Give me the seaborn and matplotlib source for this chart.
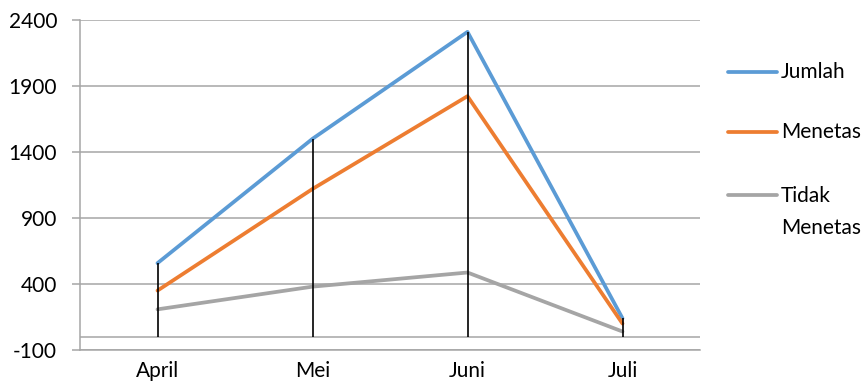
import matplotlib
matplotlib.use("Agg")
import matplotlib.pyplot as plt
from matplotlib.lines import Line2D
import seaborn as sns
import pandas as pd

# Monthly hatching counts
months = ["April", "Mei", "Juni", "Juli"]
jumlah = [558, 1500, 2310, 140]
menetas = [350, 1120, 1823, 100]
tidak_menetas = [208, 380, 487, 40]

series_names = ["Jumlah", "Menetas", "Tidak\nMenetas"]
series_values = [jumlah, menetas, tidak_menetas]
colors = ["#5B9BD5", "#ED7D31", "#A5A5A5"]

y_ticks = [-100, 400, 900, 1400, 1900, 2400]

rows = []
for name, vals in zip(series_names, series_values):
    for i, v in enumerate(vals):
        rows.append({"pos": i, "bulan": months[i], "seri": name, "nilai": v})
df = pd.DataFrame(rows)

sns.set_theme(style="white")
plt.rcParams["font.family"] = ["Lato", "DejaVu Sans"]

W, H = 867, 383
FS = 15
fig = plt.figure(figsize=(W / 100, H / 100), dpi=100)
ax = fig.add_axes([80 / W, 1 - 350 / H, 620 / W, 330 / H])

grid_c = "#A6A6A6"

# drop lines from the highest value of each month down to zero
tops = [max(v) for v in zip(*series_values)]
ax.vlines(range(len(months)), 0, tops, color="black", lw=1.2, zorder=4)

sns.lineplot(data=df, x="pos", y="nilai", hue="seri", palette=colors,
             lw=2.7, legend=False, ax=ax, zorder=3)

ax.axhline(0, color=grid_c, lw=1.1, zorder=1)

ax.set_xlim(-0.5, len(months) - 0.5)
ax.set_ylim(-100, 2400)
ax.set_yticks(y_ticks)
ax.set_yticklabels([str(t) for t in y_ticks])
ax.set_xticks(range(len(months)))
ax.set_xticklabels(months)
ax.set_xlabel("")
ax.set_ylabel("")

ax.grid(axis="y", color=grid_c, lw=1.1)
ax.grid(axis="x", visible=False)
for s in ["top", "right"]:
    ax.spines[s].set_visible(False)
for s in ["left", "bottom"]:
    ax.spines[s].set_color(grid_c)
    ax.spines[s].set_linewidth(1.1)

ax.tick_params(axis="y", length=5.5, width=1.1, color=grid_c, pad=11,
               labelsize=FS, labelcolor="black", left=True)
ax.tick_params(axis="x", length=0, pad=8, labelsize=FS, labelcolor="black")

# legend entries on the right
leg_y = [72, 132, 195]
for name, c, y in zip(series_names, colors, leg_y):
    fig.add_artist(Line2D([728 / W, 777 / W], [1 - y / H, 1 - y / H],
                          color=c, lw=2.7, transform=fig.transFigure))
    if "\n" in name:
        fig.text(781 / W, 1 - (y - 9) / H, name, fontsize=FS, color="black",
                 va="top", ha="left", linespacing=1.77)
    else:
        fig.text(781 / W, 1 - y / H, name, fontsize=FS, color="black",
                 va="center", ha="left")

fig.savefig("out.png", dpi=100, facecolor="white")
